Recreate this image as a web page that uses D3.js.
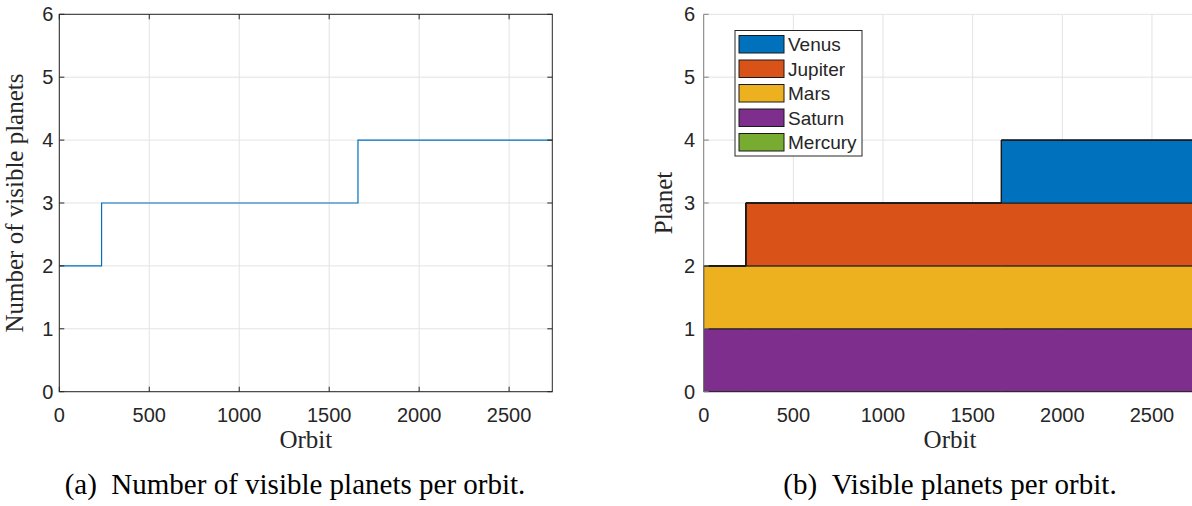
<!DOCTYPE html>
<html>
<head>
<meta charset="utf-8">
<script src="https://cdn.jsdelivr.net/npm/d3@7"></script>
<style>
  body { margin: 0; background: #fff; }
  svg text { fill: #262626; }
</style>
</head>
<body>
<svg id="chart" width="1192" height="506"></svg>
<script>
// orbit break points where visibility changes
const orbits = [0, 235, 1660, 2740];
const planets = ["Venus", "Jupiter", "Mars", "Saturn", "Mercury"];
const colors = ["#0072BD", "#D95319", "#EDB120", "#7E2F8E", "#77AC30"];
// visibility (1 = visible) of each planet at each break point
const venus   = [0, 0, 1, 1];
const jupiter = [0, 1, 1, 1];
const mars    = [1, 1, 1, 1];
const saturn  = [1, 1, 1, 1];
const mercury = [0, 0, 0, 0];
const stackOrder = ["Saturn", "Mars", "Jupiter", "Venus", "Mercury"];
const xTicks = [0, 500, 1000, 1500, 2000, 2500];
const yTicks = [0, 1, 2, 3, 4, 5, 6];
const xMax = 2740, yMax = 6;

const vis = { Venus: venus, Jupiter: jupiter, Mars: mars, Saturn: saturn, Mercury: mercury };
const rows = orbits.map((o, i) => {
  const r = { orbit: o };
  planets.forEach(p => r[p] = vis[p][i]);
  return r;
});
const counts = rows.map(r => planets.reduce((s, p) => s + r[p], 0));
const colorOf = p => colors[planets.indexOf(p)];

const svg = d3.select("#chart");
const yTop = 14.3, yBot = 391.7;
const y = d3.scaleLinear().domain([0, yMax]).range([yBot, yTop]);
const tickFont = "20px 'Liberation Sans', Arial, sans-serif";
const legendFont = "19px 'Liberation Sans', Arial, sans-serif";
const labelFont = "25px 'Liberation Serif', 'Times New Roman', serif";
const gridColor = "#e3e3e3";

function grid(g, x) {
  g.append("g").selectAll("line").data(xTicks).join("line")
    .attr("x1", d => x(d)).attr("x2", d => x(d)).attr("y1", yTop).attr("y2", yBot)
    .attr("stroke", gridColor);
  g.append("g").selectAll("line").data(yTicks).join("line")
    .attr("x1", x.range()[0]).attr("x2", x.range()[1]).attr("y1", d => y(d)).attr("y2", d => y(d))
    .attr("stroke", gridColor);
}

function tickLabels(g, x, yLabelGap) {
  g.append("g").selectAll("text").data(xTicks).join("text")
    .attr("x", d => x(d)).attr("y", 422).attr("text-anchor", "middle")
    .style("font", tickFont).text(d => d);
  g.append("g").selectAll("text").data(yTicks).join("text")
    .attr("x", x.range()[0] - yLabelGap).attr("y", d => y(d) + 7).attr("text-anchor", "end")
    .style("font", tickFont).text(d => d);
}

// ---------- (a) number of visible planets ----------
const xa = d3.scaleLinear().domain([0, xMax]).range([59.3, 552.3]);
const ga = svg.append("g");
grid(ga, xa);

const stepLine = d3.line().x(d => xa(d.orbit)).y(d => y(d.n)).curve(d3.curveStepAfter);
ga.append("path")
  .datum(orbits.map((o, i) => ({ orbit: o, n: counts[i] })))
  .attr("d", stepLine).attr("fill", "none").attr("stroke", "#0072BD").attr("stroke-width", 1.2);

// box and inward ticks
const axA = "#262626";
ga.append("rect").attr("x", xa(0)).attr("y", yTop).attr("width", xa(xMax) - xa(0)).attr("height", yBot - yTop)
  .attr("fill", "none").attr("stroke", axA).attr("stroke-width", 1);
ga.append("g").selectAll("path").data(xTicks).join("path")
  .attr("d", d => `M${xa(d)},${yBot}v-5M${xa(d)},${yTop}v5`).attr("stroke", axA);
ga.append("g").selectAll("path").data(yTicks).join("path")
  .attr("d", d => `M${xa(0)},${y(d)}h5M${xa(xMax)},${y(d)}h-5`).attr("stroke", axA);
tickLabels(ga, xa, 6);

ga.append("text").attr("x", (xa(0) + xa(xMax)) / 2).attr("y", 448).attr("text-anchor", "middle")
  .style("font", labelFont).text("Orbit");
ga.append("text").attr("transform", `translate(23,${(yTop + yBot) / 2}) rotate(-90)`)
  .attr("text-anchor", "middle").style("font", labelFont).text("Number of visible planets");

// ---------- (b) stacked visible planets ----------
const xb = d3.scaleLinear().domain([0, xMax]).range([703.7, 1195]);
const gb = svg.append("g");
grid(gb, xb);

const stacked = d3.stack().keys(stackOrder)(rows);
const area = d3.area().x(d => xb(d.data.orbit)).y0(d => y(d[0])).y1(d => y(d[1])).curve(d3.curveStepAfter);
gb.append("g").selectAll("path").data(stacked).join("path")
  .attr("d", area).attr("fill", d => colorOf(d.key))
  .attr("stroke", "#1a1a1a").attr("stroke-width", 1);

const axB = "#808080";
gb.append("line").attr("x1", xb(0)).attr("x2", xb(0)).attr("y1", yTop).attr("y2", yBot)
  .attr("stroke", axB);
gb.append("g").selectAll("path").data(yTicks).join("path")
  .attr("d", d => `M${xb(0)},${y(d)}h5`).attr("stroke", axB);
tickLabels(gb, xb, 8.5);

gb.append("text").attr("x", 950).attr("y", 448).attr("text-anchor", "middle")
  .style("font", labelFont).text("Orbit");
gb.append("text").attr("transform", `translate(672,${(yTop + yBot) / 2}) rotate(-90)`)
  .attr("text-anchor", "middle").style("font", labelFont).text("Planet");

// legend
const lg = gb.append("g").attr("transform", "translate(735,30.5)");
lg.append("rect").attr("width", 127).attr("height", 125.5).attr("fill", "#fff").attr("stroke", "#262626");
const item = lg.selectAll("g").data(planets).join("g")
  .attr("transform", (d, i) => `translate(4,${5 + i * 24.5})`);
item.append("rect").attr("width", 45).attr("height", 17.5).attr("fill", d => colorOf(d))
  .attr("stroke", "#1a1a1a");
item.append("text").attr("x", 49).attr("y", 15.5).style("font", legendFont).text(d => d);

// captions
const capFont = "29px 'Liberation Serif', 'Times New Roman', serif";
svg.append("text").attr("x", 295).attr("y", 494).attr("text-anchor", "middle")
  .style("font", capFont).style("fill", "#000")
  .text("(a)\u00a0\u00a0Number of visible planets per orbit.");
svg.append("text").attr("x", 950).attr("y", 494).attr("text-anchor", "middle")
  .style("font", capFont).style("fill", "#000")
  .text("(b)\u00a0\u00a0Visible planets per orbit.");
</script>
</body>
</html>
